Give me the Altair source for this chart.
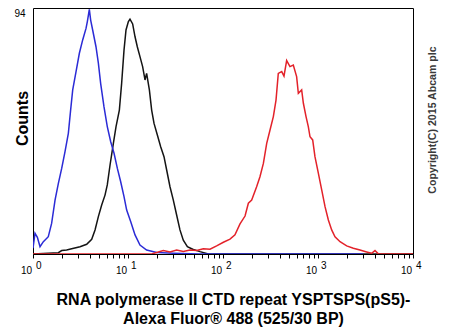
import altair as alt
import pandas as pd

# Fluorescence positions are read as log10 values; counts (0-94)
blue_log = [0.0, 0.021, 0.046, 0.074, 0.109, 0.161, 0.196, 0.232, 0.267, 0.302, 0.337, 0.372,
            0.396, 0.418, 0.453, 0.488, 0.523, 0.558, 0.572, 0.593, 0.607, 0.628, 0.663, 0.688,
            0.712, 0.747, 0.782, 0.818, 0.853, 0.888, 0.923, 0.958, 0.986, 1.028, 1.074, 1.126,
            1.196, 1.302, 1.477, 1.758, 3.477]
blue_cnt = [2.2, 7.9, 6.4, 2.8, 4.7, 6.6, 11.7, 20.6, 27.0, 32.7, 39.1, 46.1,
            55.0, 62.7, 69.7, 76.7, 81.8, 86.2, 88.8, 93.5, 89.4, 85.6, 79.2, 72.9,
            65.2, 56.3, 48.7, 42.9, 38.5, 32.7, 27.6, 21.9, 16.8, 12.4, 7.3, 3.4,
            1.5, 0.6, 0.3, 0.0, 0.0]

black_log = [0.0, 0.267, 0.302, 0.354, 0.407, 0.495, 0.565, 0.618, 0.653, 0.688, 0.723, 0.758,
             0.782, 0.811, 0.846, 0.874, 0.909, 0.933, 0.958, 0.979, 1.004, 1.021, 1.049,
             1.074, 1.098, 1.126, 1.154, 1.179, 1.196, 1.225, 1.249, 1.274, 1.309, 1.344,
             1.379, 1.407, 1.442, 1.477, 1.512, 1.547, 1.582, 1.625, 1.681, 1.758, 1.846, 4.0]
black_cnt = [0.0, 0.5, 1.3, 1.5, 2.0, 2.8, 3.7, 5.6, 9.2, 14.3, 18.7, 22.5,
             26.4, 34.0, 42.3, 48.7, 55.0, 65.2, 77.9, 85.6, 88.8, 89.7, 87.9,
             83.0, 79.2, 75.4, 71.6, 66.5, 69.0, 62.7, 55.0, 49.9, 45.5, 41.0,
             37.2, 32.1, 25.7, 20.6, 14.9, 9.2, 5.3, 2.8, 1.8, 0.9, 0.0, 0.0]

red_log = [0.0, 1.25, 1.302, 1.372, 1.442, 1.512, 1.582, 1.653, 1.723, 1.793, 1.863, 1.933,
           2.004, 2.074, 2.126, 2.179, 2.232, 2.267, 2.302, 2.354, 2.389, 2.425, 2.460,
           2.495, 2.530, 2.558, 2.582, 2.618, 2.642, 2.670, 2.705, 2.740, 2.775, 2.793,
           2.828, 2.846, 2.874, 2.898, 2.916, 2.944, 2.968, 3.004, 3.039, 3.074, 3.109,
           3.144, 3.179, 3.232, 3.302, 3.372, 3.442, 3.512, 3.565, 3.600, 3.635, 4.0]
red_cnt = [0.0, 0.0, 0.6, 1.3, 0.8, 1.5, 1.0, 1.5, 1.3, 2.0, 1.8, 3.1,
           4.5, 5.7, 7.3, 11.5, 14.5, 19.4, 20.6, 25.7, 29.5, 34.6, 42.3,
           47.4, 52.5, 58.8, 69.0, 69.7, 68.0, 73.9, 71.6, 72.2, 67.8, 61.4,
           62.7, 57.6, 52.5, 48.7, 44.8, 43.6, 37.2, 30.8, 24.5, 18.1, 13.0,
           9.2, 6.6, 4.7, 3.1, 2.2, 1.5, 0.8, 0.3, 1.3, 0.1, 0.0]

decades = [1, 10, 100, 1000, 10000]
decade_base = ["10", "10", "10", "10", "10"]
decade_exp = ["0", "1", "2", "3", "4"]
tick_values = [m * d for d in [1, 10, 100, 1000] for m in range(1, 10)] + [10000]

x_title = ["RNA polymerase II CTD repeat YSPTSPS(pS5)-", "Alexa Fluor\u00ae 488 (525/30 BP)"]
y_title = "Counts"
copyright_text = "Copyright(C) 2015 Abcam plc"

FONT = "Liberation Sans"


def series(logs, cnts):
    return pd.DataFrame({"fl": [10 ** v for v in logs], "count": cnts, "i": list(range(len(logs)))})


x_scale = alt.Scale(type="log", domain=[1, 10000], nice=False)
y_scale = alt.Scale(domain=[0, 94], nice=False, zero=True)

x_axis = alt.Axis(values=tick_values, labels=False, tickSize=4, tickColor="black", tickWidth=1,
                  domain=False, grid=False, title=x_title, titleFont=FONT, titleFontSize=16,
                  titleFontWeight="bold", titleColor="black", titleX=200, titleY=50,
                  titleBaseline="alphabetic", titleAlign="center", titleLineHeight=19, titleAngle=0)
y_axis = alt.Axis(values=[94], tickSize=0, domain=False, grid=False, labelFont=FONT,
                  labelFontSize=10, labelColor="black", labelPadding=8, labelBaseline="top",
                  title=y_title, titleFont=FONT, titleFontSize=16, titleFontWeight="bold",
                  titleColor="black", titleX=-6, titleY=110, titleAngle=270,
                  titleBaseline="alphabetic", titleAlign="center")

X = alt.X("fl:Q", scale=x_scale, axis=x_axis)
Y = alt.Y("count:Q", scale=y_scale, axis=y_axis)


def line(df, color):
    return alt.Chart(df).mark_line(color=color, strokeWidth=1.5, clip=True).encode(
        x=X, y=Y, order="i:Q")


black = line(series(black_log, black_cnt), "#141414")
blue = line(series(blue_log, blue_cnt), "#2b2bd6")
red = line(series(red_log, red_cnt), "#e3222a")

dec_df = pd.DataFrame({"fl": decades, "base": decade_base, "exp": decade_exp})
base_txt = alt.Chart(dec_df).mark_text(align="right", baseline="alphabetic", dx=-1, font=FONT,
                                       fontSize=10, color="black").encode(
    x=X, y=alt.value(266), text="base:N")
exp_txt = alt.Chart(dec_df).mark_text(align="left", baseline="alphabetic", dx=3, font=FONT,
                                      fontSize=10, color="black").encode(
    x=X, y=alt.value(261), text="exp:N")

copy_df = pd.DataFrame({"t": [copyright_text]})
copy_txt = alt.Chart(copy_df).mark_text(angle=270, align="center", baseline="middle", font=FONT,
                                        fontSize=10.6, fontWeight="bold", color="#3a3a3a").encode(
    x=alt.value(400), y=alt.value(112), text="t:N")

chart = alt.layer(black, blue, red, base_txt, exp_txt, copy_txt).properties(
    width=380, height=246,
    autosize=alt.AutoSizeParams(type="none"),
    padding={"left": 33, "top": 8, "right": 37, "bottom": 76},
    background="white",
).configure_view(stroke="black", strokeWidth=1)

chart.save("out.html", embed_options={"renderer": "svg", "actions": False})
